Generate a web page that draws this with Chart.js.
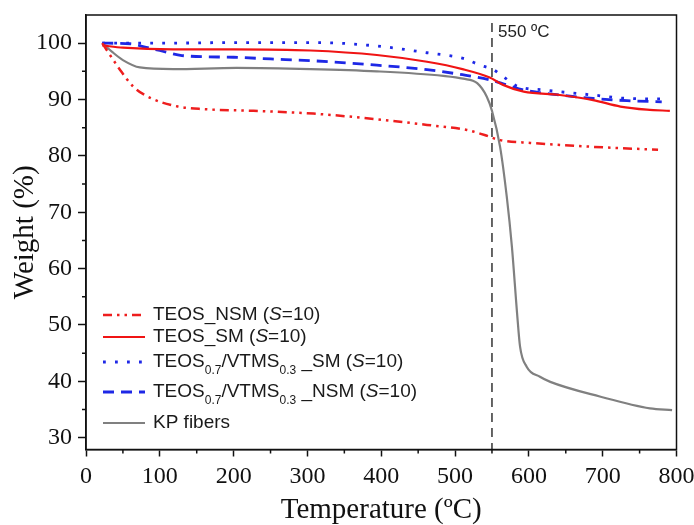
<!DOCTYPE html>
<html>
<head>
<meta charset="utf-8">
<script src="https://cdn.jsdelivr.net/npm/chart.js@4"></script>
<style>
  body { margin: 0; background: #fff; }
</style>
</head>
<body>
<canvas id="tga" width="694" height="525"></canvas>
<script>
// TGA curves, weight (%) vs temperature (ºC)
const nsmTemp = [22, 28, 46, 64, 87, 123, 159, 227, 308, 394, 462, 516, 540, 561, 602, 674, 719, 775];
const nsmWeight = [100, 98.8, 95.3, 92.3, 90.3, 88.8, 88.3, 88.0, 87.5, 86.5, 85.5, 84.6, 83.7, 82.8, 82.3, 81.7, 81.4, 81.1];

const smTemp = [22, 50, 118, 200, 304, 394, 462, 510, 547, 565, 593, 642, 687, 724, 760, 791];
const smWeight = [99.6, 99.2, 98.9, 98.9, 98.7, 97.9, 96.7, 95.4, 93.9, 92.6, 91.4, 90.8, 89.9, 88.75, 88.2, 88.0];

const vtmsSmTemp = [22, 100, 200, 313, 394, 462, 511, 534, 552, 565, 584, 620, 687, 733, 787];
const vtmsSmWeight = [100, 100, 100.1, 100.1, 99.5, 98.3, 97.3, 96.1, 95.3, 94.1, 92.4, 91.7, 90.8, 90.2, 90.1];

const vtmsNsmTemp = [22, 60, 80, 100, 130, 200, 250, 304, 394, 462, 510, 547, 570, 593, 642, 687, 733, 780];
const vtmsNsmWeight = [100, 99.9, 99.3, 98.7, 97.8, 97.5, 97.2, 96.9, 96.1, 95.3, 94.4, 93.5, 92.6, 91.7, 90.8, 90.2, 89.8, 89.6];

const kpTemp = [22, 35, 50, 73, 118, 204, 304, 394, 484, 511, 530, 543, 550, 561, 570, 577, 584, 588, 597, 615, 629, 696, 764, 794];
const kpWeight = [100, 98.5, 97.0, 95.7, 95.4, 95.6, 95.4, 95.0, 94.2, 93.7, 92.9, 90.5, 88.0, 81.6, 72.8, 63.9, 52.1, 46.2, 42.6, 40.8, 39.9, 37.3, 35.2, 34.9];

const markerTemp = 550;
const markerLabel = "550 ºC";

const seriesNames = [
  "TEOS_NSM (<i>S</i>=10)",
  "TEOS_SM (<i>S</i>=10)",
  "TEOS<sub>0.7</sub>/VTMS<sub>0.3</sub> _SM (<i>S</i>=10)",
  "TEOS<sub>0.7</sub>/VTMS<sub>0.3</sub> _NSM (<i>S</i>=10)",
  "KP fibers"
];

const xMajorTicks = [0, 100, 200, 300, 400, 500, 600, 700, 800];
const xMinorTicks = [50, 150, 250, 350, 450, 550, 650, 750];
const yMajorTicks = [30, 40, 50, 60, 70, 80, 90, 100];
const yMinorTicks = [35, 45, 55, 65, 75, 85, 95];

const toPoints = (xs, ys) => xs.map((x, i) => ({ x: x, y: ys[i] }));

const sansFont = "'Liberation Sans', Arial, sans-serif";
const serifFont = "'Liberation Serif', 'Times New Roman', serif";

// minor ticks + closed frame + marker text
const framePlugin = {
  id: "frame",
  afterDraw(chart) {
    const { ctx, chartArea: a, scales } = chart;
    ctx.save();
    ctx.strokeStyle = "#111";
    ctx.lineWidth = 1.5;
    ctx.strokeRect(a.left, a.top, a.right - a.left, a.bottom - a.top);
    ctx.beginPath();
    xMinorTicks.forEach((v) => {
      const px = scales.x.getPixelForValue(v);
      ctx.moveTo(px, a.bottom);
      ctx.lineTo(px, a.bottom + 4);
    });
    yMinorTicks.forEach((v) => {
      const py = scales.y.getPixelForValue(v);
      ctx.moveTo(a.left, py);
      ctx.lineTo(a.left - 4, py);
    });
    ctx.stroke();

    ctx.fillStyle = "#222";
    ctx.font = "17px " + sansFont;
    ctx.textBaseline = "middle";
    ctx.fillText(markerLabel, scales.x.getPixelForValue(markerTemp) + 6, 32);
    ctx.restore();
  },
};

// legend drawn by hand so the subscripts and italic S come out right
const legendPlugin = {
  id: "richLegend",
  afterDraw(chart) {
    const { ctx } = chart;
    const rows = [315, 337, 362, 392, 423];
    ctx.save();
    chart.data.datasets.forEach((ds, i) => {
      if (!ds.label) return;
      const y = rows[i];
      ctx.beginPath();
      ctx.strokeStyle = ds.borderColor;
      ctx.lineWidth = ds.borderWidth;
      ctx.setLineDash(ds.borderDash || []);
      ctx.moveTo(103, y);
      ctx.lineTo(145, y);
      ctx.stroke();
      ctx.setLineDash([]);

      let x = 153;
      ctx.fillStyle = "#1a1a1a";
      ctx.textBaseline = "middle";
      ds.label.split(/(<i>.*?<\/i>|<sub>.*?<\/sub>)/).forEach((part) => {
        if (!part) return;
        let txt = part, dy = 0;
        ctx.font = "19px " + sansFont;
        if (part.startsWith("<i>")) {
          txt = part.slice(3, -4);
          ctx.font = "italic 19px " + sansFont;
        } else if (part.startsWith("<sub>")) {
          txt = part.slice(5, -6);
          ctx.font = "12px " + sansFont;
          dy = 9;
        }
        ctx.fillText(txt, x, y + dy);
        x += ctx.measureText(txt).width;
      });
    });
    ctx.restore();
  },
};

const lineDefaults = {
  pointRadius: 0,
  fill: false,
  cubicInterpolationMode: "monotone",
  borderCapStyle: "butt",
};

new Chart(document.getElementById("tga"), {
  type: "line",
  data: {
    datasets: [
      { ...lineDefaults, label: seriesNames[0], data: toPoints(nsmTemp, nsmWeight),
        borderColor: "rgb(238, 30, 30)", borderWidth: 2.5, borderDash: [9, 5, 2.5, 5, 2.5, 5] },
      { ...lineDefaults, label: seriesNames[1], data: toPoints(smTemp, smWeight),
        borderColor: "rgb(240, 20, 20)", borderWidth: 2.2 },
      { ...lineDefaults, label: seriesNames[2], data: toPoints(vtmsSmTemp, vtmsSmWeight),
        borderColor: "rgb(30, 40, 230)", borderWidth: 2.8, borderDash: [2.8, 9.2] },
      { ...lineDefaults, label: seriesNames[3], data: toPoints(vtmsNsmTemp, vtmsNsmWeight),
        borderColor: "rgb(30, 40, 230)", borderWidth: 2.8, borderDash: [11, 7] },
      { ...lineDefaults, label: seriesNames[4], data: toPoints(kpTemp, kpWeight),
        borderColor: "rgb(128, 128, 128)", borderWidth: 2.2 },
      { ...lineDefaults, label: "", data: [{ x: markerTemp, y: 103.6 }, { x: markerTemp, y: 27.9 }],
        borderColor: "#333", borderWidth: 1.5, borderDash: [9, 6], cubicInterpolationMode: "default" },
    ],
  },
  options: {
    responsive: false,
    animation: false,
    devicePixelRatio: 1,
    layout: { padding: { top: 15, right: 17.5, left: 0, bottom: 0 } },
    plugins: { legend: { display: false }, tooltip: { enabled: false } },
    scales: {
      x: {
        type: "linear",
        min: 0,
        max: 800,
        afterBuildTicks: (s) => { s.ticks = xMajorTicks.map((v) => ({ value: v })); },
        afterFit: (s) => { s.height = 75.5; s.paddingLeft = 0; s.paddingRight = 0; },
        grid: { drawOnChartArea: false, drawTicks: true, tickLength: 7, tickColor: "#111", tickWidth: 1.5 },
        border: { display: true, color: "#111", width: 1.5 },
        ticks: { color: "#111", padding: 6, maxRotation: 0, autoSkip: false, font: { family: serifFont, size: 24 } },
        title: { display: true, text: "Temperature (ºC)", color: "#111",
                 font: { family: serifFont, size: 29, lineHeight: 1 }, padding: { top: 0, bottom: 0 } },
      },
      y: {
        type: "linear",
        min: 27.9,
        max: 105,
        afterBuildTicks: (s) => { s.ticks = yMajorTicks.map((v) => ({ value: v })); },
        afterFit: (s) => { s.width = 86; s.paddingTop = 0; s.paddingBottom = 0; },
        grid: { drawOnChartArea: false, drawTicks: true, tickLength: 8, tickColor: "#111", tickWidth: 1.5 },
        border: { display: true, color: "#111", width: 1.5 },
        ticks: { color: "#111", padding: 6, autoSkip: false, font: { family: serifFont, size: 24 } },
        title: { display: true, text: "Weight (%)", color: "#111",
                 font: { family: serifFont, size: 29, lineHeight: 1.2 }, padding: { top: 8, bottom: 0 } },
      },
    },
  },
  plugins: [framePlugin, legendPlugin],
});
</script>
</body>
</html>
